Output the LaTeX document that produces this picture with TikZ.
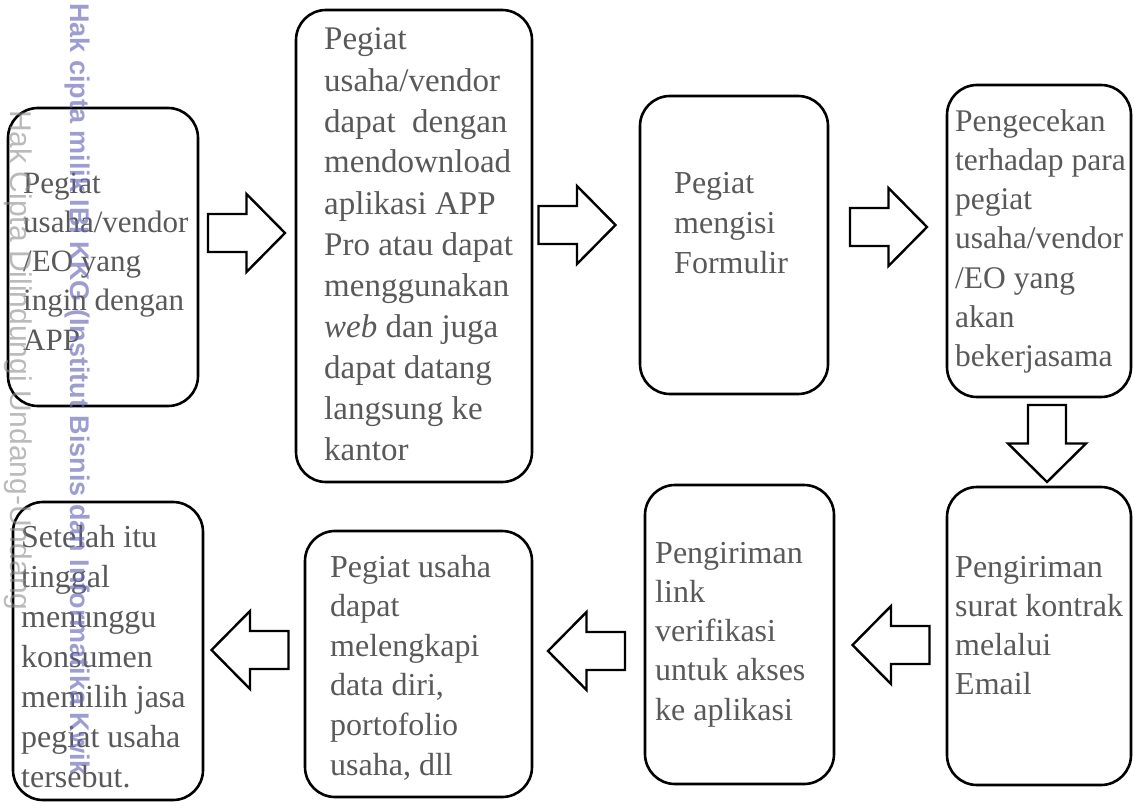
\documentclass[tikz,border=0pt]{standalone}
\usepackage{fontspec}
\setmainfont{Liberation Serif}
\newfontfamily\wmfont{Liberation Sans}
\definecolor{txtgray}{RGB}{89,89,89}
\definecolor{wmblue}{RGB}{105,105,185}
\definecolor{wmgray}{RGB}{140,140,140}
\newcommand{\tl}[2]{\vtop{\baselineskip=#1\lineskip=0pt\lineskiplimit=-1000pt\halign{##\hfil\cr#2\crcr}}}
\tikzset{
  box/.style={draw=black, line width=2.6pt, rounded corners=30pt, fill=white, inner sep=0pt},
  txt/.style={inner sep=0pt, anchor=base west, text=txtgray},
  blockarr/.pic={\draw[line width=2.4pt, fill=white, line join=miter]
     (-38.5,-19) -- (0,-19) -- (0,-39) -- (38.5,0) -- (0,39) -- (0,19) -- (-38.5,19) -- cycle;}
}
\begin{document}
\begin{tikzpicture}[x=1pt,y=-1pt]
\useasboundingbox (0,0) rectangle (1134,808);
% boxes
\node[box, minimum width=190pt, minimum height=298pt] (b1) at (103,257) {};
\node[box, minimum width=236pt, minimum height=472pt] (b2) at (414,246) {};
\node[box, minimum width=188pt, minimum height=298pt] (b3) at (734,245) {};
\node[box, minimum width=184pt, minimum height=312pt] (b4) at (1039,241) {};
\node[box, minimum width=184pt, minimum height=298pt] (b5) at (1039,636) {};
\node[box, minimum width=189pt, minimum height=299pt] (b6) at (739.5,634.5) {};
\node[box, minimum width=227pt, minimum height=266pt] (b7) at (418.5,664) {};
\node[box, minimum width=190pt, minimum height=298pt] (b8) at (108,651) {};
% texts
\node[txt, font=\fontsize{31pt}{39pt}\selectfont] (t1) at (23,193)
  {\tl{39.3pt}{Pegiat\cr usaha/vendor\cr /EO yang\cr ingin dengan\cr APP}};
\node[txt, font=\fontsize{33pt}{41pt}\selectfont] (t2) at (324,50)
  {\tl{41pt}{Pegiat\cr usaha/vendor\cr dapat\ \ dengan\cr mendownload\cr aplikasi APP\cr Pro atau dapat\cr menggunakan\cr \textit{web} dan juga\cr dapat datang\cr langsung ke\cr kantor}};
\node[txt, font=\fontsize{32pt}{40pt}\selectfont] (t3) at (674,193)
  {\tl{40pt}{Pegiat\cr mengisi\cr Formulir}};
\node[txt, font=\fontsize{31.5pt}{40pt}\selectfont] (t4) at (955,131)
  {\tl{39.3pt}{Pengecekan\cr terhadap para\cr pegiat\cr usaha/vendor\cr /EO yang\cr akan\cr bekerjasama}};
\node[txt, font=\fontsize{32pt}{40pt}\selectfont] (t5) at (955,577)
  {\tl{39.3pt}{Pengiriman\cr surat kontrak\cr melalui\cr Email}};
\node[txt, font=\fontsize{32pt}{40pt}\selectfont] (t6) at (655,563)
  {\tl{39.3pt}{Pengiriman\cr link\cr verifikasi\cr untuk akses\cr ke aplikasi}};
\node[txt, font=\fontsize{32pt}{40pt}\selectfont] (t7) at (330,577)
  {\tl{39.6pt}{Pegiat usaha\cr dapat\cr melengkapi\cr data diri,\cr portofolio\cr usaha, dll}};
\node[txt, font=\fontsize{32pt}{40pt}\selectfont] (t8) at (21,547)
  {\tl{40pt}{Setelah itu\cr tinggal\cr menunggu\cr konsumen\cr memilih jasa\cr pegiat usaha\cr tersebut.}};
% block arrows
\coordinate (a1) at (246.5,233);
\coordinate (a2) at (577,225);
\coordinate (a3) at (888.5,227);
\coordinate (a4) at (1047,443.5);
\coordinate (a5) at (891,645);
\coordinate (a6) at (586.5,651);
\coordinate (a7) at (250,650);
\pic at (a1) {blockarr};
\pic at (a2) {blockarr};
\pic at (a3) {blockarr};
\pic[rotate=-90] at (a4) {blockarr};
\pic[rotate=180] at (a5) {blockarr};
\pic[rotate=180] at (a6) {blockarr};
\pic[rotate=180] at (a7) {blockarr};
% watermark
\node[inner sep=0pt, rotate=-90, anchor=base west, text=wmgray, opacity=0.6,
  font=\wmfont\fontsize{30pt}{36pt}\selectfont] (wm1) at (10,110)
  {Hak Cipta Dilindungi Undang-Undang};
\node[inner sep=0pt, rotate=-90, anchor=base west, text=wmblue, opacity=0.65,
  font=\wmfont\bfseries\fontsize{27pt}{32pt}\selectfont] (wm2) at (70,3)
  {Hak cipta milik IBI KKG (Institut Bisnis dan Informatika Kwik};
\end{tikzpicture}
\end{document}
